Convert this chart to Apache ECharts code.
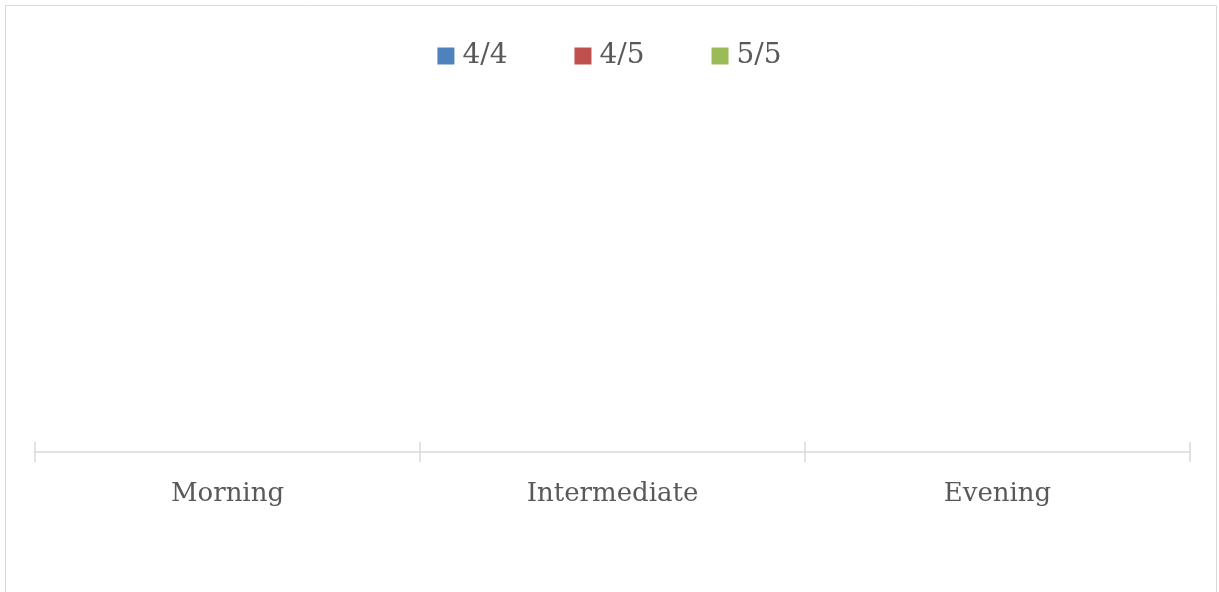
<!DOCTYPE html>
<html>
<head>
<meta charset="utf-8">
<script src="https://cdn.jsdelivr.net/npm/echarts@6/dist/echarts.min.js"></script>
<style>
html,body{margin:0;padding:0;background:#fff;}
#chart{width:1219px;height:592px;}
</style>
</head>
<body>
<div id="chart"></div>
<script>
const categories = ['Morning', 'Intermediate', 'Evening'];
const seriesNames = ['4/4', '4/5', '5/5'];
const values44 = [null, null, null];
const values45 = [null, null, null];
const values55 = [null, null, null];
const colors = ['#4f81bd', '#c0504d', '#9bbb59'];

const FONT = 'DejaVu Serif';
const chart = echarts.init(document.getElementById('chart'), null, {renderer: 'canvas'});
const seriesData = [values44, values45, values55];
chart.setOption({
  animation: false,
  backgroundColor: '#ffffff',
  color: colors,
  graphic: [{
    type: 'rect',
    shape: {x: 5.5, y: 5.5, width: 1211, height: 620},
    style: {fill: 'none', stroke: '#d9d9d9', lineWidth: 1},
    silent: true
  }],
  legend: {
    top: 37,
    left: 'center',
    itemWidth: 17,
    itemHeight: 17,
    itemGap: 67,
    icon: 'rect',
    textStyle: {fontFamily: FONT, fontSize: 28, color: '#595959', padding: [0, 0, 0, 3]},
    data: seriesNames
  },
  grid: {left: 35, right: 29, top: 100, bottom: 140, containLabel: false},
  xAxis: [{
    type: 'category',
    data: categories,
    position: 'bottom',
    axisLine: {show: true, lineStyle: {color: '#d9d9d9', width: 1.5}},
    axisTick: {show: true, length: 10, lineStyle: {color: '#d9d9d9', width: 1.5}},
    axisLabel: {fontFamily: FONT, fontSize: 26, color: '#595959', margin: 29}
  }, {
    type: 'category',
    data: categories,
    position: 'bottom',
    axisLine: {show: false},
    axisTick: {show: true, inside: true, length: 10, lineStyle: {color: '#d9d9d9', width: 1.5}},
    axisLabel: {show: false}
  }],
  yAxis: {
    type: 'value',
    min: 0,
    max: 1,
    show: false
  },
  series: seriesNames.map((name, i) => ({
    name: name,
    type: 'bar',
    data: seriesData[i]
  }))
});
</script>
</body>
</html>
